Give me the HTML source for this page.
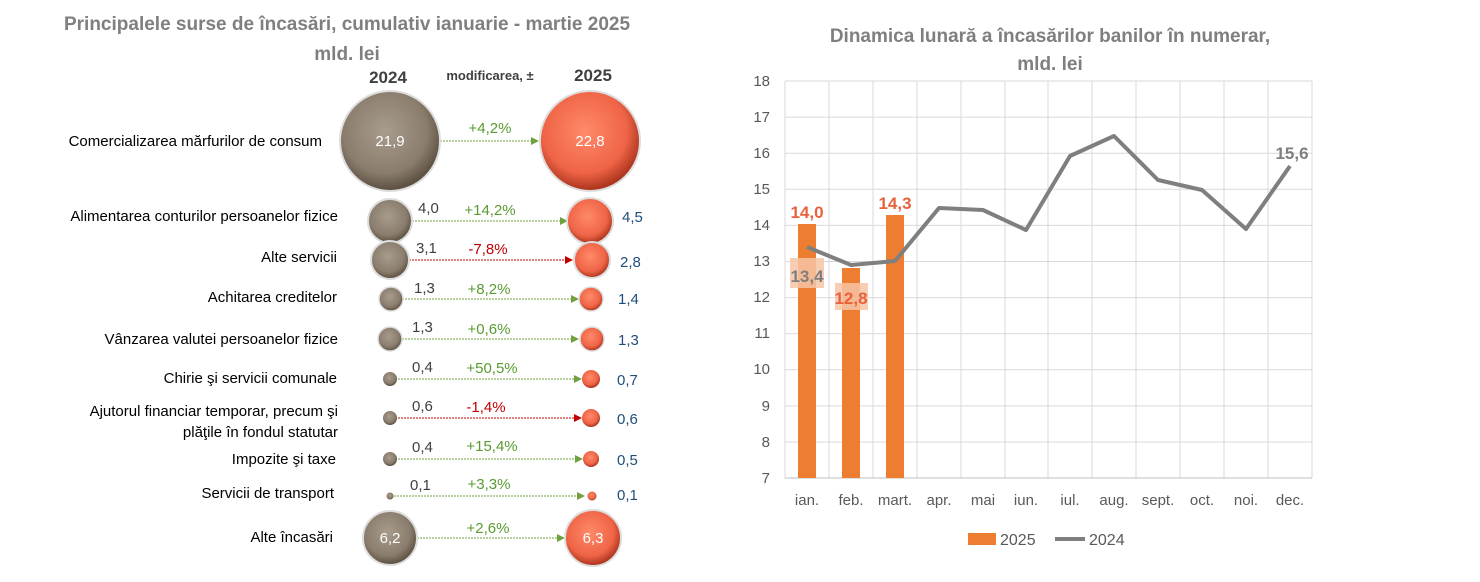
<!DOCTYPE html><html><head><meta charset="utf-8"><style>body{margin:0;background:#fff}svg{display:block;font-family:"Liberation Sans",sans-serif}</style></head><body>
<svg width="1480" height="582" viewBox="0 0 1480 582">
<defs>
<radialGradient id="g" cx="45%" cy="40%" r="60%"><stop offset="0" stop-color="#a89c8c"/><stop offset="0.7" stop-color="#8a7d6d"/><stop offset="1" stop-color="#5a4e40"/></radialGradient>
<radialGradient id="r" cx="45%" cy="40%" r="60%"><stop offset="0" stop-color="#ff8a6a"/><stop offset="0.7" stop-color="#ef6446"/><stop offset="1" stop-color="#a8321c"/></radialGradient>
<marker id="ag" markerWidth="8" markerHeight="8" refX="7" refY="4" orient="auto"><path d="M0,0L8,4L0,8z" fill="#70a040"/></marker>
<marker id="ar" markerWidth="8" markerHeight="8" refX="7" refY="4" orient="auto"><path d="M0,0L8,4L0,8z" fill="#c00000"/></marker>
</defs>
<g font-weight="bold" fill="#7f7f7f" font-size="19" text-anchor="middle">
<text x="347" y="30">Principalele surse de încasări, cumulativ ianuarie - martie 2025</text>
<text x="347" y="60">mld. lei</text>
<text x="1050" y="42">Dinamica lunară a încasărilor banilor în numerar,</text>
<text x="1050" y="70">mld. lei</text>
</g>
<g font-weight="bold" fill="#404040" text-anchor="middle"><text x="388" y="83" font-size="17">2024</text><text x="593" y="81" font-size="17">2025</text><text x="490" y="80" font-size="13">modificarea, ±</text></g>
<g font-size="15" fill="#000" text-anchor="end">
<text x="322" y="146">Comercializarea mărfurilor de consum</text>
<text x="338" y="221">Alimentarea conturilor persoanelor fizice</text>
<text x="337" y="262">Alte servicii</text>
<text x="337" y="302">Achitarea creditelor</text>
<text x="338" y="344">Vânzarea valutei persoanelor fizice</text>
<text x="337" y="383">Chirie şi servicii comunale</text>
<text x="338" y="416">Ajutorul financiar temporar, precum şi</text>
<text x="338" y="437">plăţile în fondul statutar</text>
<text x="336" y="464">Impozite şi taxe</text>
<text x="334" y="498">Servicii de transport</text>
<text x="333" y="542">Alte încasări</text>
</g>
<g font-size="15">
<line x1="440" y1="141" x2="538" y2="141" stroke="#70a040" stroke-dasharray="2,1" marker-end="url(#ag)"/>
<circle cx="390" cy="141" r="50" fill="url(#g)" stroke="#ddd" stroke-width="2"/><circle cx="590" cy="141" r="50" fill="url(#r)" stroke="#ddd" stroke-width="2"/>
<text x="390" y="146" fill="#fff" text-anchor="middle">21,9</text><text x="590" y="146" fill="#fff" text-anchor="middle">22,8</text><text x="490" y="133" fill="#5a9a30" text-anchor="middle">+4,2%</text>

<line x1="412" y1="221" x2="567" y2="221" stroke="#70a040" stroke-dasharray="2,1" marker-end="url(#ag)"/>
<circle cx="390" cy="221" r="22" fill="url(#g)" stroke="#ddd" stroke-width="2"/><circle cx="590" cy="221" r="23" fill="url(#r)" stroke="#ddd" stroke-width="2"/>
<text x="418" y="213" fill="#404040">4,0</text><text x="490" y="215" fill="#5a9a30" text-anchor="middle">+14,2%</text><text x="622" y="222" fill="#1f4e79">4,5</text>

<line x1="409" y1="260" x2="572" y2="260" stroke="#c00000" stroke-dasharray="2,1" marker-end="url(#ar)"/>
<circle cx="390" cy="260" r="19" fill="url(#g)" stroke="#ddd" stroke-width="2"/><circle cx="592" cy="260" r="18" fill="url(#r)" stroke="#ddd" stroke-width="2"/>
<text x="416" y="253" fill="#404040">3,1</text><text x="488" y="254" fill="#c00000" text-anchor="middle">-7,8%</text><text x="620" y="267" fill="#1f4e79">2,8</text>

<line x1="402" y1="299" x2="578" y2="299" stroke="#70a040" stroke-dasharray="2,1" marker-end="url(#ag)"/>
<circle cx="391" cy="299" r="12" fill="url(#g)" stroke="#ddd" stroke-width="1.5"/><circle cx="591" cy="299" r="12" fill="url(#r)" stroke="#ddd" stroke-width="1.5"/>
<text x="414" y="293" fill="#404040">1,3</text><text x="489" y="294" fill="#5a9a30" text-anchor="middle">+8,2%</text><text x="618" y="304" fill="#1f4e79">1,4</text>

<line x1="402" y1="339" x2="578" y2="339" stroke="#70a040" stroke-dasharray="2,1" marker-end="url(#ag)"/>
<circle cx="390" cy="339" r="12" fill="url(#g)" stroke="#ddd" stroke-width="1.5"/><circle cx="592" cy="339" r="12" fill="url(#r)" stroke="#ddd" stroke-width="1.5"/>
<text x="412" y="332" fill="#404040">1,3</text><text x="489" y="334" fill="#5a9a30" text-anchor="middle">+0,6%</text><text x="618" y="345" fill="#1f4e79">1,3</text>

<line x1="398" y1="379" x2="581" y2="379" stroke="#70a040" stroke-dasharray="2,1" marker-end="url(#ag)"/>
<circle cx="390" cy="379" r="7" fill="url(#g)"/><circle cx="591" cy="379" r="9" fill="url(#r)"/>
<text x="412" y="372" fill="#404040">0,4</text><text x="492" y="373" fill="#5a9a30" text-anchor="middle">+50,5%</text><text x="617" y="385" fill="#1f4e79">0,7</text>

<line x1="398" y1="418" x2="581" y2="418" stroke="#c00000" stroke-dasharray="2,1" marker-end="url(#ar)"/>
<circle cx="390" cy="418" r="7" fill="url(#g)"/><circle cx="591" cy="418" r="9" fill="url(#r)"/>
<text x="412" y="411" fill="#404040">0,6</text><text x="486" y="412" fill="#c00000" text-anchor="middle">-1,4%</text><text x="617" y="424" fill="#1f4e79">0,6</text>

<line x1="398" y1="459" x2="582" y2="459" stroke="#70a040" stroke-dasharray="2,1" marker-end="url(#ag)"/>
<circle cx="390" cy="459" r="7" fill="url(#g)"/><circle cx="591" cy="459" r="8" fill="url(#r)"/>
<text x="412" y="452" fill="#404040">0,4</text><text x="492" y="451" fill="#5a9a30" text-anchor="middle">+15,4%</text><text x="617" y="465" fill="#1f4e79">0,5</text>

<line x1="394" y1="496" x2="584" y2="496" stroke="#70a040" stroke-dasharray="2,1" marker-end="url(#ag)"/>
<circle cx="390" cy="496" r="3.5" fill="url(#g)"/><circle cx="592" cy="496" r="4.5" fill="url(#r)"/>
<text x="410" y="490" fill="#404040">0,1</text><text x="489" y="489" fill="#5a9a30" text-anchor="middle">+3,3%</text><text x="617" y="500" fill="#1f4e79">0,1</text>

<line x1="417" y1="538" x2="564" y2="538" stroke="#70a040" stroke-dasharray="2,1" marker-end="url(#ag)"/>
<circle cx="390" cy="538" r="27" fill="url(#g)" stroke="#ddd" stroke-width="2"/><circle cx="593" cy="538" r="28" fill="url(#r)" stroke="#ddd" stroke-width="2"/>
<text x="390" y="543" fill="#fff" text-anchor="middle">6,2</text><text x="593" y="543" fill="#fff" text-anchor="middle">6,3</text><text x="488" y="533" fill="#5a9a30" text-anchor="middle">+2,6%</text>
</g>
<g stroke="#d9d9d9" stroke-width="1">
<line x1="785" y1="81" x2="1312" y2="81"/><line x1="785" y1="117.1" x2="1312" y2="117.1"/><line x1="785" y1="153.2" x2="1312" y2="153.2"/><line x1="785" y1="189.3" x2="1312" y2="189.3"/><line x1="785" y1="225.4" x2="1312" y2="225.4"/><line x1="785" y1="261.5" x2="1312" y2="261.5"/><line x1="785" y1="297.6" x2="1312" y2="297.6"/><line x1="785" y1="333.7" x2="1312" y2="333.7"/><line x1="785" y1="369.8" x2="1312" y2="369.8"/><line x1="785" y1="405.9" x2="1312" y2="405.9"/><line x1="785" y1="442" x2="1312" y2="442"/>
<line x1="785" y1="81" x2="785" y2="478"/><line x1="829" y1="81" x2="829" y2="478"/><line x1="873" y1="81" x2="873" y2="478"/><line x1="917" y1="81" x2="917" y2="478"/><line x1="961" y1="81" x2="961" y2="478"/><line x1="1005" y1="81" x2="1005" y2="478"/><line x1="1048" y1="81" x2="1048" y2="478"/><line x1="1092" y1="81" x2="1092" y2="478"/><line x1="1136" y1="81" x2="1136" y2="478"/><line x1="1180" y1="81" x2="1180" y2="478"/><line x1="1224" y1="81" x2="1224" y2="478"/><line x1="1268" y1="81" x2="1268" y2="478"/><line x1="1312" y1="81" x2="1312" y2="478"/>
<line x1="785" y1="478" x2="1312" y2="478" stroke="#bfbfbf"/>
</g>
<g font-size="15" fill="#595959" text-anchor="end">
<text x="770" y="86">18</text><text x="770" y="122">17</text><text x="770" y="158">16</text><text x="770" y="194">15</text><text x="770" y="230">14</text><text x="770" y="266">13</text><text x="770" y="302">12</text><text x="770" y="338">11</text><text x="770" y="374">10</text><text x="770" y="411">9</text><text x="770" y="447">8</text><text x="770" y="483">7</text>
</g>
<g font-size="15" fill="#595959" text-anchor="middle">
<text x="807" y="505">ian.</text><text x="851" y="505">feb.</text><text x="895" y="505">mart.</text><text x="939" y="505">apr.</text><text x="983" y="505">mai</text><text x="1026" y="505">iun.</text><text x="1070" y="505">iul.</text><text x="1114" y="505">aug.</text><text x="1158" y="505">sept.</text><text x="1202" y="505">oct.</text><text x="1246" y="505">noi.</text><text x="1290" y="505">dec.</text>
</g>
<g fill="#ed7d31"><rect x="798" y="224" width="18" height="254"/><rect x="842" y="268" width="18" height="210"/><rect x="886" y="215" width="18" height="263"/></g>
<rect x="790" y="258" width="34" height="30" fill="#f6c4a6" opacity="0.85"/>
<rect x="835" y="283" width="33" height="27" fill="#f6c4a6" opacity="0.85"/>
<polyline fill="none" stroke="#7f7f7f" stroke-width="4" stroke-linejoin="round" points="807,247 851,265 895,261 939,208 983,210 1026,230 1070,156 1114,136 1158,180 1202,190 1246,229 1290,166"/>
<g font-size="17" font-weight="bold" text-anchor="middle">
<text x="807" y="218" fill="#e8613c">14,0</text><text x="895" y="209" fill="#e8613c">14,3</text><text x="851" y="304" fill="#e8613c">12,8</text><text x="807" y="282" fill="#7f7f7f">13,4</text><text x="1292" y="159" fill="#7f7f7f">15,6</text>
</g>
<rect x="968" y="533" width="28" height="12" fill="#ed7d31"/><text x="1000" y="545" font-size="16" fill="#595959">2025</text>
<line x1="1055" y1="539" x2="1085" y2="539" stroke="#7f7f7f" stroke-width="4"/><text x="1089" y="545" font-size="16" fill="#595959">2024</text>
</svg></body></html>
